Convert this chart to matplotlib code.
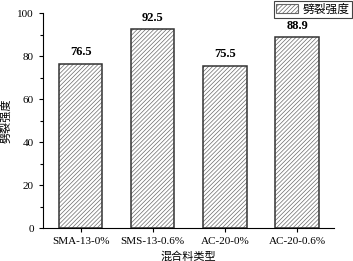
import matplotlib
matplotlib.use('Agg')
import matplotlib.pyplot as plt
from matplotlib.patches import Patch
from matplotlib.ticker import MultipleLocator

categories = ['SMA-13-0%', 'SMS-13-0.6%', 'AC-20-0%', 'AC-20-0.6%']
values = [76.5, 92.5, 75.5, 88.9]
series_name = '劈裂强度'

serif = ['Liberation Serif', 'DejaVu Serif']
cjk = ['Noto Sans CJK SC', 'DejaVu Sans']
plt.rcParams['hatch.linewidth'] = 0.5

fig = plt.figure(figsize=(3.53, 2.61), dpi=100)
ax = fig.add_axes([0.122, 0.126, 0.824, 0.824])

x = list(range(len(categories)))
# hatch layer in gray, then outline on top
ax.bar(x, values, width=0.6, color='white', edgecolor='#6a6a6a', hatch='////////', linewidth=0)
ax.bar(x, values, width=0.6, color='none', edgecolor='#333333', linewidth=1.1)

for xi, v in zip(x, values):
    ax.text(xi, v + 2.5, f'{v:.1f}', ha='center', va='bottom', fontsize=9,
            fontweight='bold', family=serif)

ax.set_xlim(-0.52, 3.51)
ax.set_ylim(0, 100)
ax.set_xticks(x)
ax.set_xticklabels(categories, family=serif, fontsize=8)
ax.yaxis.set_major_locator(MultipleLocator(20))
ax.yaxis.set_minor_locator(MultipleLocator(10))
for lab in ax.get_yticklabels():
    lab.set_family(serif)
    lab.set_fontsize(8)
ax.tick_params(direction='out', length=3, width=0.8)
ax.tick_params(which='minor', direction='out', length=2, width=0.8)
ax.spines['top'].set_visible(False)
ax.spines['right'].set_visible(False)

ax.set_xlabel('混合料类型', family=cjk, fontsize=8, labelpad=4)
ax.set_ylabel('劈裂强度', family=cjk, fontsize=8, labelpad=4)

handle = Patch(facecolor='white', edgecolor='#666666', hatch='////////', linewidth=0.8)
leg = fig.legend([handle], [series_name], loc='upper right', bbox_to_anchor=(1.0, 1.0),
                 prop={'family': cjk, 'size': 8.5}, fancybox=False, framealpha=1,
                 edgecolor='#444444', handlelength=1.9, handleheight=0.8,
                 handletextpad=0.4, borderpad=0.15, borderaxespad=0.1)
leg.get_frame().set_linewidth(0.8)

fig.savefig('out.png', dpi=100)
